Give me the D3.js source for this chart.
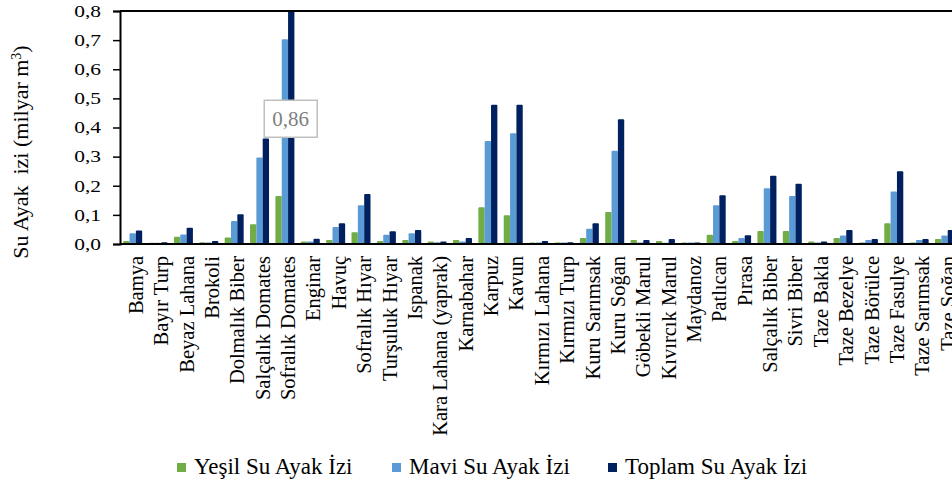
<!DOCTYPE html>
<html><head><meta charset="utf-8">
<script src="https://cdn.jsdelivr.net/npm/d3@7"></script>
<style>
body{margin:0;background:#fff;} svg{display:block;}
</style>
</head><body>
<svg id="chart" width="952" height="485"></svg>
<script>
const categories = ["Bamya","Bayır Turp","Beyaz Lahana","Brokoli","Dolmalık Biber","Salçalık Domates","Sofralık Domates","Enginar","Havuç","Sofralık Hıyar","Turşuluk Hıyar","Ispanak","Kara Lahana (yaprak)","Karnabahar","Karpuz","Kavun","Kırmızı Lahana","Kırmızı Turp","Kuru Sarımsak","Kuru Soğan","Göbekli Marul","Kıvırcık Marul","Maydanoz","Patlıcan","Pırasa","Salçalık Biber","Sivri Biber","Taze Bakla","Taze Bezelye","Taze Börülce","Taze Fasulye","Taze Sarımsak","Taze Soğan"];
const yesil = [0.010,0.004,0.025,0.006,0.022,0.068,0.165,0.009,0.014,0.040,0.010,0.014,0.009,0.014,0.126,0.099,0.005,0.005,0.021,0.110,0.014,0.010,0.005,0.032,0.010,0.045,0.045,0.009,0.021,0.005,0.071,0.005,0.017];
const mavi = [0.037,0.004,0.033,0.005,0.079,0.297,0.703,0.009,0.058,0.133,0.032,0.037,0.006,0.009,0.354,0.380,0.005,0.005,0.052,0.320,0.005,0.004,0.005,0.133,0.021,0.191,0.165,0.005,0.029,0.014,0.180,0.014,0.029];
const toplam = [0.046,0.006,0.056,0.010,0.102,0.362,0.86,0.018,0.071,0.172,0.044,0.048,0.009,0.021,0.478,0.478,0.010,0.006,0.071,0.428,0.014,0.017,0.005,0.167,0.030,0.234,0.207,0.009,0.048,0.017,0.250,0.017,0.048];
const seriesNames = ["Yeşil Su Ayak İzi","Mavi Su Ayak İzi","Toplam Su Ayak İzi"];
const seriesColors = ["#70ad47","#5b9bd5","#002060"];
const yTicks = [0,0.1,0.2,0.3,0.4,0.5,0.6,0.7,0.8];
const calloutLabel = "0,86";

const SERIF = '"Liberation Serif"';
const svg = d3.select("#chart");
const mLeft = 120, mTop = 11, mBottom = 244;
const step = 25.37;
const x = d3.scaleBand().domain(categories).range([mLeft, mLeft + step*categories.length]).padding(0);
const inner = d3.scaleBand().domain([0,1,2]).range([-9.5, 9.5]).padding(0);
const y = d3.scaleLinear().domain([0,0.8]).range([mBottom, mTop]);
const fmt = d => d.toFixed(1).replace(".", ",");

svg.append("defs").append("clipPath").attr("id","plot")
  .append("rect").attr("x", mLeft).attr("y", mTop).attr("width", 952-mLeft).attr("height", mBottom-mTop);

const data = [yesil, mavi, toplam];
const g = svg.append("g").attr("clip-path","url(#plot)");
data.forEach((vals, si) => {
  g.selectAll(null).data(vals).enter().append("rect")
    .attr("x", (d,i) => x(categories[i]) + x.bandwidth()/2 + inner(si))
    .attr("width", inner.bandwidth())
    .attr("y", d => y(d))
    .attr("height", d => y(0) - y(d))
    .attr("rx", 1)
    .attr("fill", seriesColors[si]);
});

// axes lines
svg.append("line").attr("x1", mLeft).attr("x2", 952).attr("y1", y(0.8)).attr("y2", y(0.8)).attr("stroke","#000").attr("stroke-width",2);
svg.append("line").attr("x1", mLeft).attr("x2", 952).attr("y1", y(0)).attr("y2", y(0)).attr("stroke","#000").attr("stroke-width",2);

const yAxis = svg.append("g").attr("transform", `translate(${mLeft},0)`)
  .call(d3.axisLeft(y).tickValues(yTicks).tickFormat(fmt).tickSize(7).tickPadding(12));
yAxis.select(".domain").attr("stroke-width",2);
yAxis.selectAll(".tick line").attr("stroke-width",1.5);
yAxis.selectAll(".tick text")
  .attr("x", 0).attr("transform","translate(-19,0) scale(1.3,1)")
  .style("font-family", SERIF).style("font-size","16.5px").attr("fill","#000");

// x labels
svg.append("g").selectAll("text").data(categories).enter().append("text")
  .attr("transform", d => `translate(${x(d) + x.bandwidth()/2 + 3},256) rotate(-90)`)
  .attr("dy","0.35em")
  .attr("text-anchor","end")
  .style("font-family", SERIF).style("font-size","20.5px").attr("fill","#000")
  .text(d => d);

// y title
svg.append("text")
  .attr("transform","translate(20,152) rotate(-90)")
  .attr("text-anchor","middle").attr("dy","0.35em")
  .style("font-family", SERIF).style("font-size","22px").attr("fill","#000")
  .html('Su Ayak&#160; izi (milyar m<tspan baseline-shift="super" style="font-size:14px">3</tspan>)');

// callout for clipped bar
const ci = categories.indexOf("Sofralık Domates");
const cx = x(categories[ci]) + x.bandwidth()/2 + inner(2) + inner.bandwidth()/2 - 0.5;
const cy = y(0.43);
svg.append("rect").attr("x", cx-26.5).attr("y", cy-18.5).attr("width",53).attr("height",37)
  .attr("fill","#fff").attr("stroke","#bfbfbf").attr("stroke-width",1.5);
svg.append("text").attr("x", cx).attr("y", cy).attr("dy","0.35em").attr("text-anchor","middle")
  .style("font-family", SERIF).style("font-size","21px").attr("fill","#7f7f7f").text(calloutLabel);

// legend
const legendX = [177, 392, 608];
const lg = svg.append("g");
seriesNames.forEach((n, i) => {
  lg.append("rect").attr("x", legendX[i]).attr("y", 463).attr("width", 9).attr("height", 9).attr("fill", seriesColors[i]);
  lg.append("text").attr("x", legendX[i] + 17).attr("y", 474)
    .style("font-family", SERIF).style("font-size","23px").attr("fill","#000").text(n);
});
</script>
</body></html>
